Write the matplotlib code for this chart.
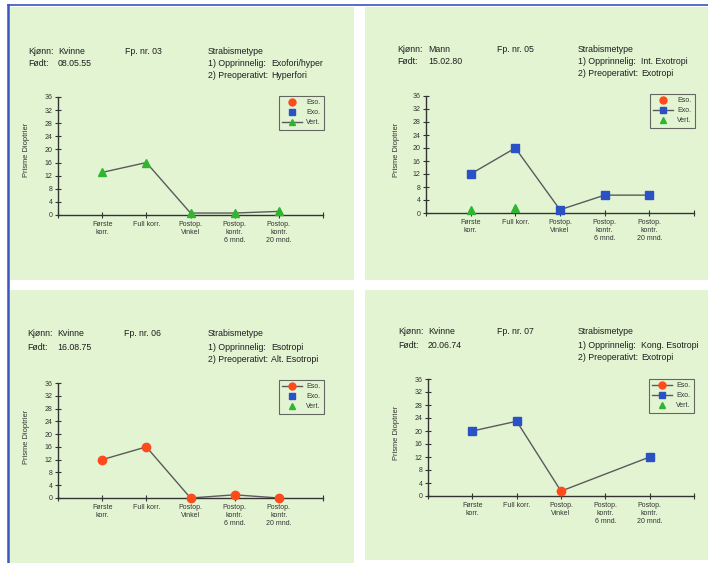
import matplotlib
matplotlib.use("Agg")
import matplotlib.pyplot as plt
from matplotlib.patches import Rectangle
from matplotlib.lines import Line2D
import numpy as np

plt.rcParams['font.family'] = ['Liberation Sans', 'DejaVu Sans']

categories = ["Første\nkorr.", "Full korr.", "Postop.\nVinkel", "Postop.\nkontr.\n6 mnd.", "Postop.\nkontr.\n20 mnd."]
yticks = [0, 4, 8, 12, 16, 20, 24, 28, 32, 36]

# Panel 1: Fp. nr. 03
p1_info = ["Kvinne", "08.05.55", "03", "Exofori/hyper", "Hyperfori"]
p1_eso = [None, None, None, None, None]
p1_exo = [None, None, None, None, None]
p1_vert = [13, 16, 0.6, 0.6, 1.1]

# Panel 2: Fp. nr. 05
p2_info = ["Mann", "15.02.80", "05", "Int. Exotropi", "Exotropi"]
p2_eso = [None, None, None, None, None]
p2_exo = [12, 20, 1, 5.5, 5.5]
p2_vert = [1, 1.5, None, None, None]

# Panel 3: Fp. nr. 06
p3_info = ["Kvinne", "16.08.75", "06", "Esotropi", "Alt. Esotropi"]
p3_eso = [12, 16, 0, 1, 0]
p3_exo = [None, None, None, None, None]
p3_vert = [None, None, None, None, None]

# Panel 4: Fp. nr. 07
p4_info = ["Kvinne", "20.06.74", "07", "Kong. Esotropi", "Exotropi"]
p4_eso = [None, None, 1.5, None, None]
p4_exo = [20, 23, None, None, 12]
p4_vert = [None, None, None, None, None]

W, H = 708, 563
fig = plt.figure(figsize=(W / 100, H / 100), dpi=100)
fig.patch.set_facecolor("white")

def fx(x): return x / W
def fy(y): return 1 - y / H

BG = "#e3f4d3"
RED = "#ff4a1c"
BLUE = "#2a52c4"
GREEN = "#2fb52f"
LINE = "#5a5a5a"
AX = "#333333"
TXT = "#1e1e1e"

# panel backgrounds (x0, y0, x1, y1) in pixels
panels_bg = [(10, 7, 354, 280), (365, 7, 708, 280), (10, 290, 354, 563), (365, 290, 708, 560)]
for (x0, y0, x1, y1) in panels_bg:
    fig.add_artist(Rectangle((fx(x0), fy(y1)), fx(x1 - x0), (y1 - y0) / H,
                             transform=fig.transFigure, facecolor=BG, edgecolor="none", zorder=0))
# blue scan border
fig.add_artist(Line2D([fx(8), fx(8)], [fy(5), fy(563)], transform=fig.transFigure, color="#3a55c0", lw=1.8))
fig.add_artist(Line2D([fx(8), fx(708)], [fy(5), fy(5)], transform=fig.transFigure, color="#3a55c0", lw=1.2))

panels = [
    dict(info=p1_info, eso=p1_eso, exo=p1_exo, vert=p1_vert, conn=dict(eso=False, exo=False, vert=True),
         ax=(58, 97, 323, 215), hx=(28, 58, 125, 208, 271), hy=(51, 63, 75),
         leg=(324, 96), ylab=(30, 150)),
    dict(info=p2_info, eso=p2_eso, exo=p2_exo, vert=p2_vert, conn=dict(eso=False, exo=True, vert=False),
         ax=(426, 96, 694, 213), hx=(397, 428, 497, 578, 641), hy=(49, 61, 73),
         leg=(695, 94), ylab=(400, 150)),
    dict(info=p3_info, eso=p3_eso, exo=p3_exo, vert=p3_vert, conn=dict(eso=True, exo=False, vert=False),
         ax=(58, 383, 323, 498), hx=(27, 57, 124, 208, 271), hy=(334, 347, 359),
         leg=(324, 380), ylab=(30, 437)),
    dict(info=p4_info, eso=p4_eso, exo=p4_exo, vert=p4_vert, conn=dict(eso=True, exo=True, vert=False),
         ax=(428, 379, 694, 496), hx=(398, 428, 497, 578, 641), hy=(332, 345, 357),
         leg=(694, 379), ylab=(400, 433)),
]

xs = np.arange(1, len(categories) + 1)

for p in panels:
    hx, hy = p["hx"], p["hy"]
    info = p["info"]
    fs = 6.3
    fig.text(fx(hx[0]), fy(hy[0]), "Kjønn:", fontsize=fs, color=TXT, va="center")
    fig.text(fx(hx[1]), fy(hy[0]), info[0], fontsize=fs, color=TXT, va="center")
    fig.text(fx(hx[0]), fy(hy[1]), "Født:", fontsize=fs, color=TXT, va="center")
    fig.text(fx(hx[1]), fy(hy[1]), info[1], fontsize=fs, color=TXT, va="center")
    fig.text(fx(hx[2]), fy(hy[0]), "Fp. nr. " + info[2], fontsize=fs, color=TXT, va="center")
    fig.text(fx(hx[3]), fy(hy[0]), "Strabismetype", fontsize=fs, color=TXT, va="center")
    fig.text(fx(hx[3]), fy(hy[1]), "1) Opprinnelig:", fontsize=fs, color=TXT, va="center")
    fig.text(fx(hx[4]), fy(hy[1]), info[3], fontsize=fs, color=TXT, va="center")
    fig.text(fx(hx[3]), fy(hy[2]), "2) Preoperativt:", fontsize=fs, color=TXT, va="center")
    fig.text(fx(hx[4]), fy(hy[2]), info[4], fontsize=fs, color=TXT, va="center")

    l, t, r, b = p["ax"]
    ax = fig.add_axes([fx(l), fy(b), fx(r - l), (b - t) / H])
    ax.set_facecolor("none")
    ax.set_xlim(0, 6)
    ax.set_ylim(0, 36)
    for s in ("top", "right"):
        ax.spines[s].set_visible(False)
    for s in ("left", "bottom"):
        ax.spines[s].set_color(AX)
        ax.spines[s].set_linewidth(1.0)
    ax.set_yticks(yticks)
    ax.set_yticklabels([str(v) for v in yticks], fontsize=5, color=AX)
    ax.set_xticks(list(range(0, 7)))
    ax.set_xticklabels([""] + categories + [""], fontsize=5, color=AX, linespacing=1.25)
    ax.tick_params(axis="both", direction="inout", length=4, width=0.8, color=AX, pad=2)
    ax.set_ylabel("Prisme Dioptrier", fontsize=5.4, color=AX)
    ax.yaxis.set_label_coords((p["ylab"][0] - l) / (r - l), (b - p["ylab"][1]) / (b - t))

    eso = np.array([np.nan if v is None else v for v in p["eso"]], dtype=float)
    exo = np.array([np.nan if v is None else v for v in p["exo"]], dtype=float)
    vert = np.array([np.nan if v is None else v for v in p["vert"]], dtype=float)
    conn = p["conn"]

    # connecting line through measured angles
    if conn["eso"] and conn["exo"]:
        comb = np.where(np.isnan(exo), eso, exo)
        m = ~np.isnan(comb)
        ax.plot(xs[m], comb[m], color=LINE, lw=1.0, zorder=2, clip_on=False)
    else:
        for key, arr in (("eso", eso), ("exo", exo), ("vert", vert)):
            if conn[key]:
                m = ~np.isnan(arr)
                ax.plot(xs[m], arr[m], color=LINE, lw=1.0, zorder=2, clip_on=False)

    ax.plot(xs, eso, ls="none", marker="o", ms=6, color=RED, mec=RED, zorder=3, clip_on=False)
    ax.plot(xs, exo, ls="none", marker="s", ms=5.5, color=BLUE, mec=BLUE, zorder=3, clip_on=False)
    ax.plot(xs, vert, ls="none", marker="^", ms=6, color=GREEN, mec=GREEN, zorder=3, clip_on=False)

    handles = [
        Line2D([], [], color=LINE, lw=1.0, ls="-" if conn["eso"] else "none", marker="o", ms=5, mfc=RED, mec=RED),
        Line2D([], [], color=LINE, lw=1.0, ls="-" if conn["exo"] else "none", marker="s", ms=4.5, mfc=BLUE, mec=BLUE),
        Line2D([], [], color=LINE, lw=1.0, ls="-" if conn["vert"] else "none", marker="^", ms=5, mfc=GREEN, mec=GREEN),
    ]
    lx, ly = p["leg"]
    leg = fig.legend(handles, ["Eso.", "Exo.", "Vert."], loc="upper right",
                     bbox_to_anchor=(fx(lx), fy(ly)), bbox_transform=fig.transFigure,
                     fontsize=5, frameon=True, fancybox=False, borderaxespad=0,
                     handlelength=2.8, handletextpad=0.7, labelspacing=0.45, borderpad=0.45)
    leg.get_frame().set_edgecolor("#444444")
    leg.get_frame().set_linewidth(0.8)
    leg.get_frame().set_facecolor("none")
    for tx in leg.get_texts():
        tx.set_color(AX)

fig.savefig("out.png", dpi=100)
